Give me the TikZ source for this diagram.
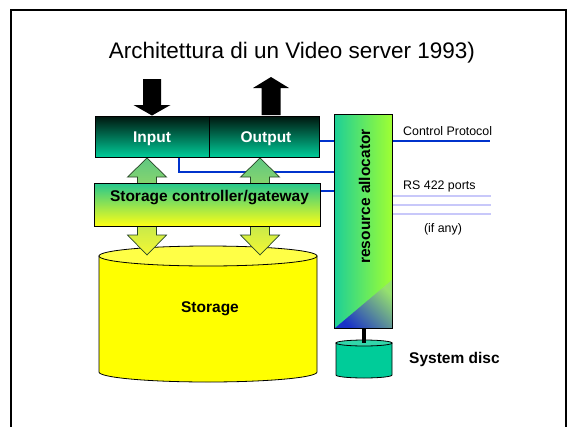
\documentclass[tikz,border=0pt]{standalone}
\usepackage{fontspec}
\setmainfont{Liberation Sans}
\definecolor{ioTop}{RGB}{0,22,14}
\definecolor{ioBot}{RGB}{0,204,153}
\definecolor{ctrlTop}{RGB}{40,200,140}
\definecolor{ctrlBot}{RGB}{255,255,20}
\definecolor{arrTop}{RGB}{95,200,130}
\definecolor{arrBot}{RGB}{245,248,50}
\definecolor{allocL}{RGB}{30,208,150}
\definecolor{allocR}{RGB}{160,255,50}
\definecolor{triBlue}{RGB}{25,50,200}
\definecolor{triTop}{RGB}{150,225,110}
\definecolor{discFill}{RGB}{0,204,153}
\definecolor{discTop}{RGB}{50,214,170}
\definecolor{storFill}{RGB}{255,255,0}
\definecolor{storTop}{RGB}{255,255,70}
\definecolor{lineBlue}{RGB}{0,51,204}
\definecolor{lav}{RGB}{200,200,250}
\definecolor{arrEdge}{RGB}{40,70,40}
\begin{document}
\begin{tikzpicture}[x=1pt,y=-1pt,
  blueline/.style={draw=lineBlue, line width=2pt},
  lavline/.style={draw=lav, line width=2.5pt},
  iobox/.style={draw=black, line width=0.8pt, top color=ioTop, bottom color=ioBot,
     minimum height=41pt, inner sep=0pt, text=white, font=\fontsize{15.5}{18}\selectfont\bfseries},
  bigarrow/.style={fill=black},
  dblarrow/.style={draw=arrEdge, line width=0.7pt, top color=arrTop, bottom color=arrBot},
  boldlabel/.style={inner sep=0pt, font=\fontsize{15.5}{18}\selectfont\bfseries},
  smalllabel/.style={inner sep=0pt, font=\fontsize{12.4}{15}\selectfont},
  outline/.style={draw=black, line width=0.8pt}]
\useasboundingbox (0,0) rectangle (573,426);
\fill[white] (0,0) rectangle (573,426);
% frame
\draw[line width=2pt] (11,440) -- (11,10) -- (566,10) -- (566,440);
% title
\node[inner sep=0pt, anchor=base, font=\fontsize{22.5}{26}\selectfont] (title) at (292,58.5) {Architettura di un Video server 1993)};
% storage cylinder
\filldraw[fill=storFill, outline] (99,256) -- (99,372) arc[start angle=180, end angle=0, x radius=109, y radius=10] -- (317,256) -- cycle;
\filldraw[fill=storTop, outline] (208,256) ellipse [x radius=109, y radius=10];
\node[boldlabel, anchor=base] (storage) at (210,312) {Storage};
% boxes (nodes) defined first for connectors
\node[iobox, minimum width=114pt] (input) at (152,136.5) {};
\node[iobox, minimum width=110pt] (output) at (264,136.5) {};
\node[minimum width=225pt, minimum height=42pt, inner sep=0pt] (ctrl) at (207.5,205) {};
\node[minimum width=57pt, minimum height=213pt, inner sep=0pt] (alloc) at (363.5,221.5) {};
% blue connectors
\coordinate (inTap) at (179,157);
\coordinate (inBend) at (179,172);
\draw[blueline] (inTap) -- (inBend) -- (inBend -| alloc.west);
\draw[blueline] ([yshift=-4.5pt]output.east) -- ([yshift=-4.5pt]output.east -| alloc.west);
\draw[blueline] ([yshift=14pt]ctrl.east) -- ([yshift=14pt]ctrl.east -| alloc.west);
\coordinate (cpEnd) at (490,141);
\draw[blueline] (alloc.east |- cpEnd) -- (cpEnd);
\coordinate (rs1) at (491,196);
\coordinate (rs2) at (491,205);
\coordinate (rs3) at (491,214);
\draw[lavline] (alloc.east |- rs1) -- (rs1);
\draw[lavline] (alloc.east |- rs2) -- (rs2);
\draw[lavline] (alloc.east |- rs3) -- (rs3);
% green/yellow double arrows
\path[dblarrow] (147,158) -- (166.5,177) -- (156.5,177) -- (156.5,235) -- (166.5,235) -- (147,255) -- (127.5,235) -- (137.5,235) -- (137.5,177) -- (127.5,177) -- cycle;
\path[dblarrow] (260,158) -- (279.5,177) -- (269.5,177) -- (269.5,235) -- (279.5,235) -- (260,255) -- (240.5,235) -- (250.5,235) -- (250.5,177) -- (240.5,177) -- cycle;
% storage controller box
\path[outline, top color=ctrlTop, bottom color=ctrlBot] (ctrl.north west) rectangle (ctrl.south east);
\node[boldlabel, anchor=base] (ctrltext) at (209.5,201) {Storage controller/gateway};
% input / output boxes
\node[iobox, minimum width=114pt] at (152,136.5) {};
\node[iobox, minimum width=110pt] at (264,136.5) {};
\node[boldlabel, text=white, anchor=base] (intext) at (152,142) {Input};
\node[boldlabel, text=white, anchor=base] (outtext) at (266,142) {Output};
% black arrows
\fill[bigarrow] (143,79) -- (161,79) -- (161,105) -- (170.5,105) -- (152,115.5) -- (133.5,105) -- (143,105) -- cycle;
\fill[bigarrow] (271,77) -- (289,88) -- (280.5,88) -- (280.5,115) -- (261.5,115) -- (261.5,88) -- (253,88) -- cycle;
% resource allocator
\path[left color=allocL, right color=allocR] (alloc.north west) rectangle (alloc.south east);
\begin{scope}
\clip (alloc.south west) -- (alloc.south east) -- (392,280) -- cycle;
\shade[bottom color=triBlue, top color=triTop, shading angle=-45] (alloc.south west) -- (alloc.south east) -- (392,280) -- cycle;
\end{scope}
\draw[outline] (alloc.north west) rectangle (alloc.south east);
\node[boldlabel, rotate=90, anchor=base] (alloctext) at (370,196.5) {resource allocator};
% system disc
\filldraw[fill=discFill, outline] (336,343) -- (336,375) arc[start angle=180, end angle=0, x radius=28, y radius=3] -- (392,343) -- cycle;
\filldraw[fill=discTop, outline] (364,343) ellipse [x radius=28, y radius=3];
\coordinate (discTopC) at (364,343);
\draw[line width=4pt] (alloc.south -| discTopC) -- (discTopC);
\node[boldlabel, anchor=base west] (sysdisc) at (409,363) {System disc};
% right labels
\node[smalllabel, anchor=base west] (cp) at (403,135) {Control Protocol};
\node[smalllabel, anchor=base west] (rs) at (403,189) {RS 422 ports};
\node[smalllabel, anchor=base] (ifany) at (443,232) {(if any)};
\end{tikzpicture}
\end{document}
